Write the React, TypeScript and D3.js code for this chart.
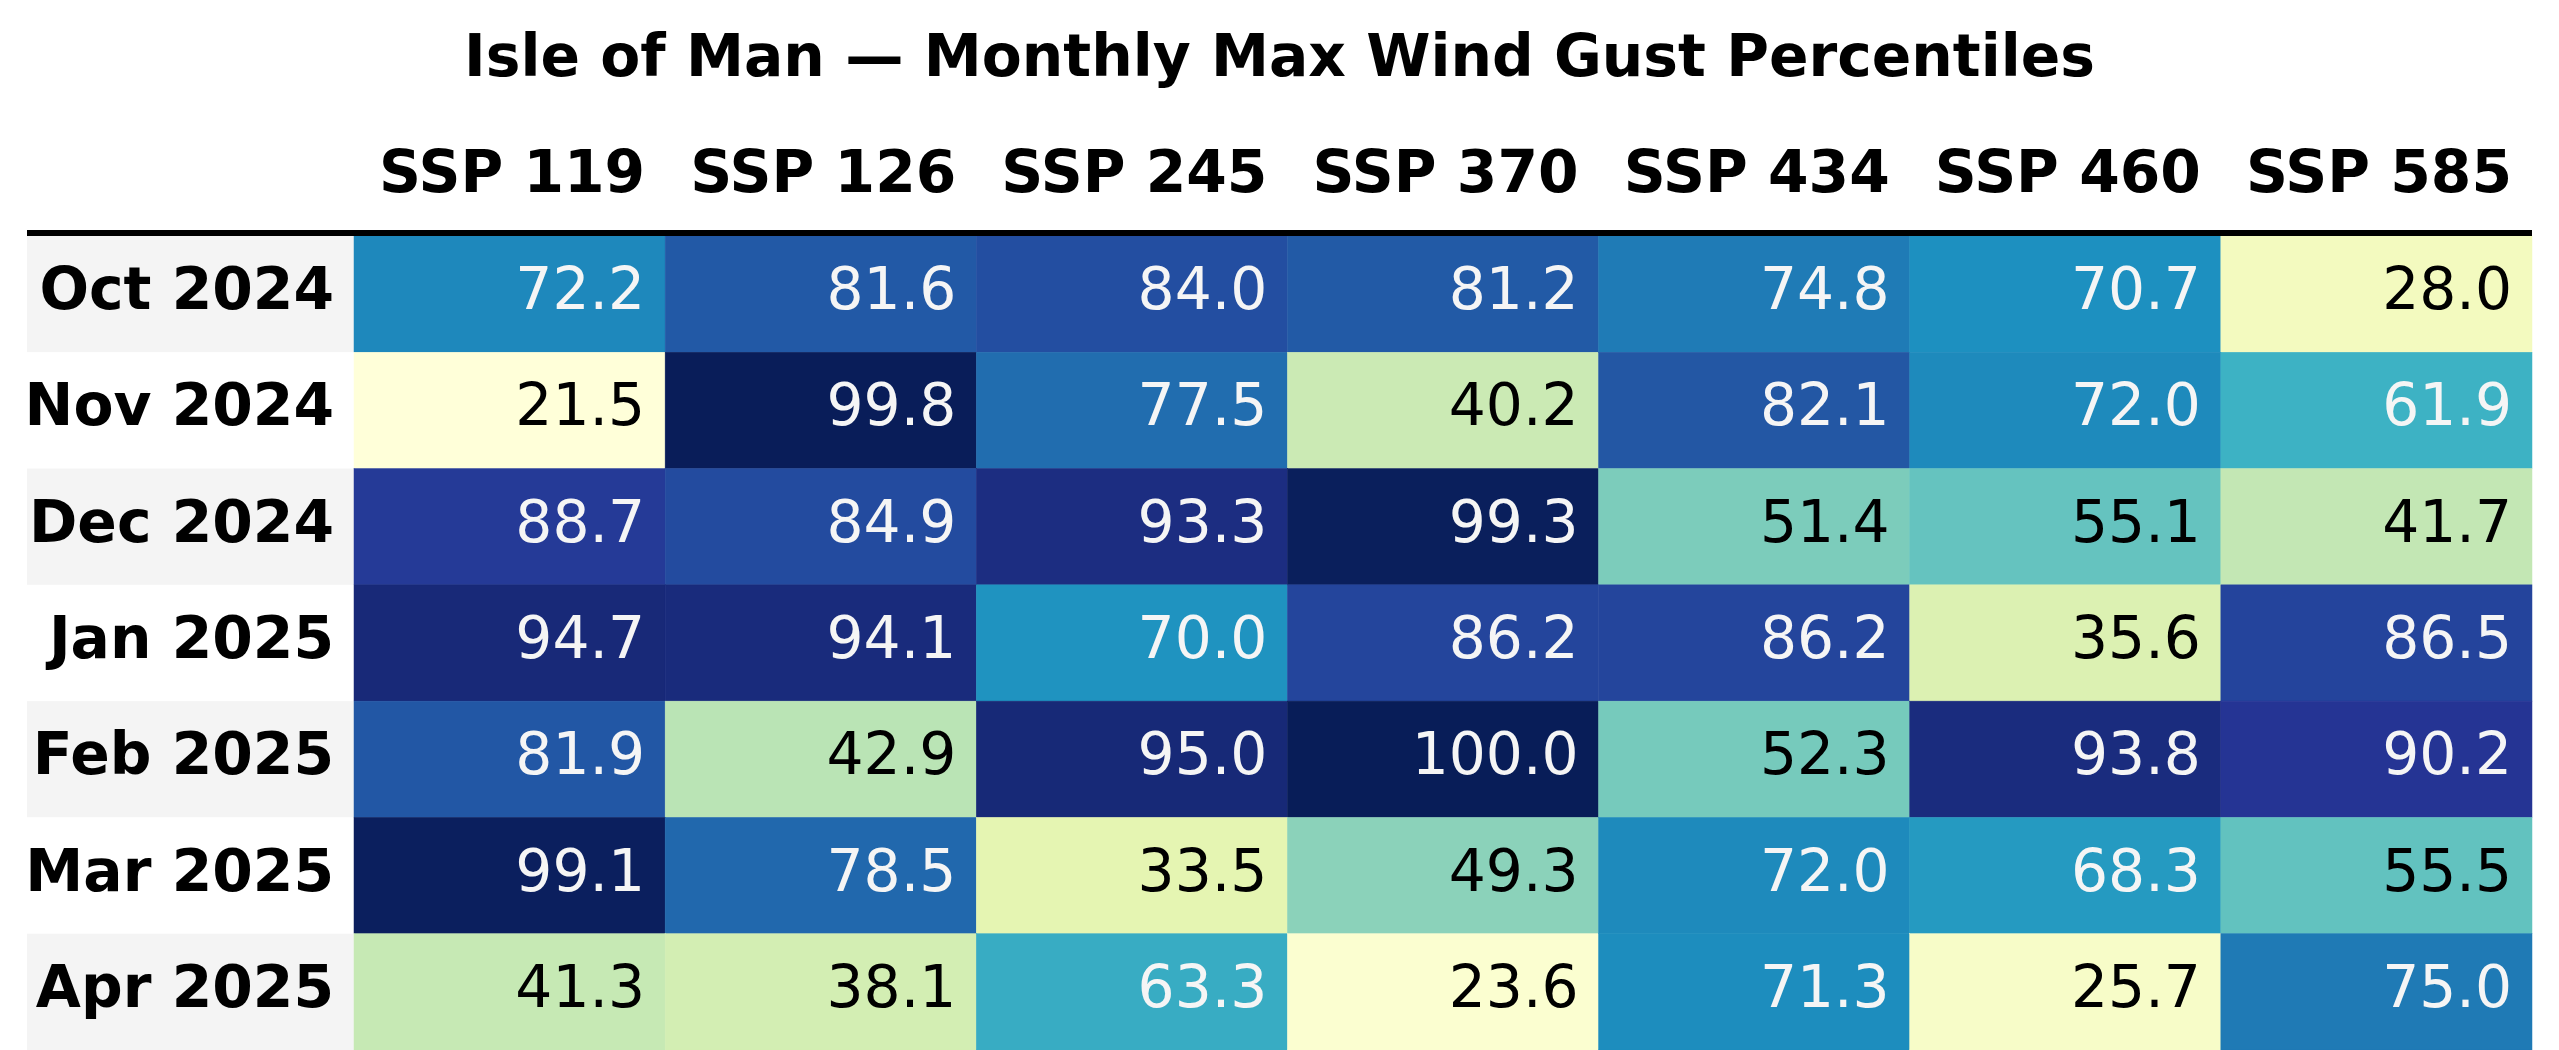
import * as d3 from "d3";
import { useEffect } from "react";

const title = "Isle of Man — Monthly Max Wind Gust Percentiles";
const scenarios = ["SSP 119", "SSP 126", "SSP 245", "SSP 370", "SSP 434", "SSP 460", "SSP 585"];
const months = ["Oct 2024", "Nov 2024", "Dec 2024", "Jan 2025", "Feb 2025", "Mar 2025", "Apr 2025"];

const oct2024 = [72.2, 81.6, 84.0, 81.2, 74.8, 70.7, 28.0];
const nov2024 = [21.5, 99.8, 77.5, 40.2, 82.1, 72.0, 61.9];
const dec2024 = [88.7, 84.9, 93.3, 99.3, 51.4, 55.1, 41.7];
const jan2025 = [94.7, 94.1, 70.0, 86.2, 86.2, 35.6, 86.5];
const feb2025 = [81.9, 42.9, 95.0, 100.0, 52.3, 93.8, 90.2];
const mar2025 = [99.1, 78.5, 33.5, 49.3, 72.0, 68.3, 55.5];
const apr2025 = [41.3, 38.1, 63.3, 23.6, 71.3, 25.7, 75.0];

const rows = [oct2024, nov2024, dec2024, jan2025, feb2025, mar2025, apr2025];

// matplotlib YlGnBu stops
const ylGnBu = ["#ffffd9", "#edf8b1", "#c7e9b4", "#7fcdbb", "#41b6c4", "#1d91c0", "#225ea8", "#253494", "#081d58"];

const W = 2559;
const H = 1050;
const FONT = "'DejaVu Sans', sans-serif";
const FS = 58.3;

export default function App() {
  useEffect(() => {
    document.body.style.margin = "0";
  }, []);

  const all = rows.flat();
  const vmin = d3.min(all) ?? 0;
  const vmax = d3.max(all) ?? 100;
  const color = d3
    .scaleLinear<string>()
    .domain(ylGnBu.map((_, i) => vmin + ((vmax - vmin) * i) / (ylGnBu.length - 1)))
    .range(ylGnBu)
    .interpolate(d3.interpolateRgb)
    .clamp(true);

  const tableLeft = 27;
  const labelRight = 354;
  const tableRight = 2532;
  const tableTop = 236;

  const x = d3.scaleBand<string>().domain(scenarios).range([labelRight, tableRight]);
  const y = d3.scaleBand<string>().domain(months).range([tableTop, H]);
  const pad = 20;
  const mid = (vmin + vmax) / 2;

  return (
    <svg width={W} height={H} viewBox={`0 0 ${W} ${H}`} style={{ display: "block", background: "#fff" }}>
      <text x={W / 2} y={76} textAnchor="middle" fontFamily={FONT} fontWeight="bold" fontSize={58.3} fill="#000">
        {title}
      </text>

      {scenarios.map((s) => (
        <text
          key={s}
          x={(x(s) ?? 0) + x.bandwidth() - pad}
          y={192}
          textAnchor="end"
          fontFamily={FONT}
          fontWeight="bold"
          fontSize={FS}
          fill="#000"
        >
          {s}
        </text>
      ))}

      {months.map((m, ri) => {
        const y0 = y(m) ?? 0;
        const base = y0 + y.bandwidth() / 2 + 15;
        return (
          <g key={m}>
            <rect x={tableLeft} y={y0} width={labelRight - tableLeft} height={y.bandwidth()} fill={ri % 2 === 0 ? "#f4f4f4" : "#ffffff"} />
            <text x={labelRight - pad} y={base} textAnchor="end" fontFamily={FONT} fontWeight="bold" fontSize={FS} fill="#000">
              {m}
            </text>
            {rows[ri].map((v, ci) => {
              const s = scenarios[ci];
              const x0 = x(s) ?? 0;
              return (
                <g key={s}>
                  <rect x={x0} y={y0} width={x.bandwidth()} height={y.bandwidth()} fill={color(v)} stroke={color(v)} strokeWidth={0.5} />
                  <text
                    x={x0 + x.bandwidth() - pad}
                    y={base}
                    textAnchor="end"
                    fontFamily={FONT}
                    fontSize={FS}
                    fill={v > mid ? "#f5f5f5" : "#000"}
                  >
                    {v.toFixed(1)}
                  </text>
                </g>
              );
            })}
          </g>
        );
      })}

      <line x1={tableLeft} x2={tableRight} y1={tableTop - 3} y2={tableTop - 3} stroke="#000" strokeWidth={6} />
    </svg>
  );
}
